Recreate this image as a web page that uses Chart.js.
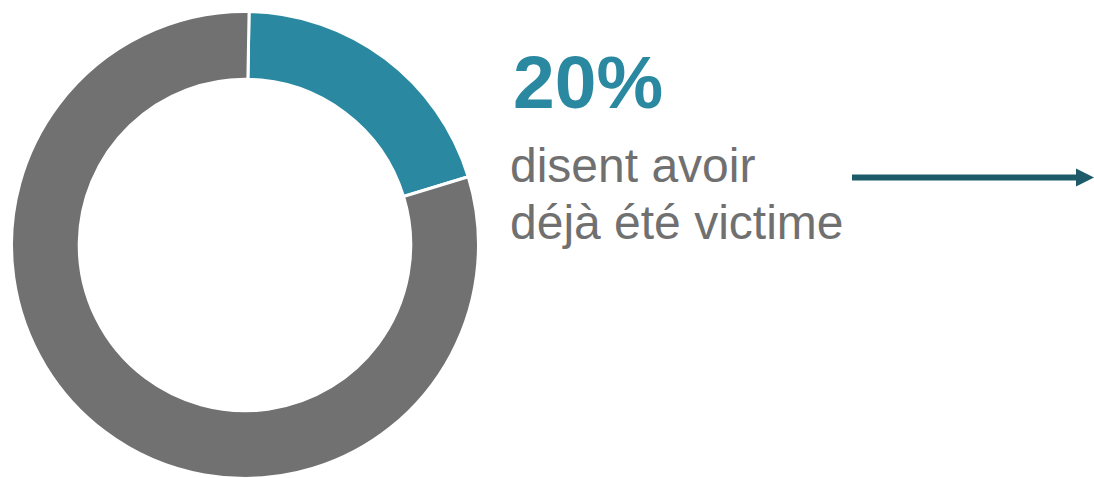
<!DOCTYPE html>
<html>
<head>
<meta charset="utf-8">
<script src="https://cdn.jsdelivr.net/npm/chart.js@4"></script>
<style>
  html, body { margin: 0; padding: 0; background: #fff; }
  body { width: 1094px; height: 478px; position: relative; overflow: hidden; font-family: "Liberation Sans", Arial, sans-serif; }
  #ring { position: absolute; left: 10px; top: 10px; width: 470px; height: 470px; }
  .big { position: absolute; left: 513px; top: 45px; font-size: 75px; font-weight: bold; color: #2a89a0; line-height: 1; }
  .sub { position: absolute; left: 510px; top: 137px; font-size: 48px; color: #707070; line-height: 57px; }
  svg { position: absolute; left: 850px; top: 166px; }
</style>
</head>
<body>
<div id="ring"><canvas id="c"></canvas></div>
<div class="big" id="pct"></div>
<div class="sub">disent avoir<br>déjà été victime</div>
<svg width="244" height="24" viewBox="0 0 244 24">
  <line x1="2" y1="11.5" x2="228" y2="11.5" stroke="#1e5b6a" stroke-width="6"/>
  <polygon points="226,2.5 244,11.5 226,20.5" fill="#1e5b6a"/>
</svg>
<script>
const categories = ['Déjà été victime', 'Jamais été victime'];
const shares = [20, 80];

document.getElementById('pct').textContent = shares[0] + '%';

const ctx = document.getElementById('c').getContext('2d');
new Chart(ctx, {
    type: 'doughnut',
    data: {
        labels: categories,
        datasets: [{
            data: shares,
            backgroundColor: ['#2a89a0', '#717171'],
            borderColor: '#ffffff',
            borderWidth: 3
        }]
    },
    options: {
        responsive: true,
        maintainAspectRatio: false,
        animation: false,
        events: [],
        cutout: '71%',
        rotation: 1,
        layout: { padding: 0 },
        plugins: {
            legend: { display: false },
            tooltip: { enabled: false }
        }
    }
});
</script>
</body>
</html>
